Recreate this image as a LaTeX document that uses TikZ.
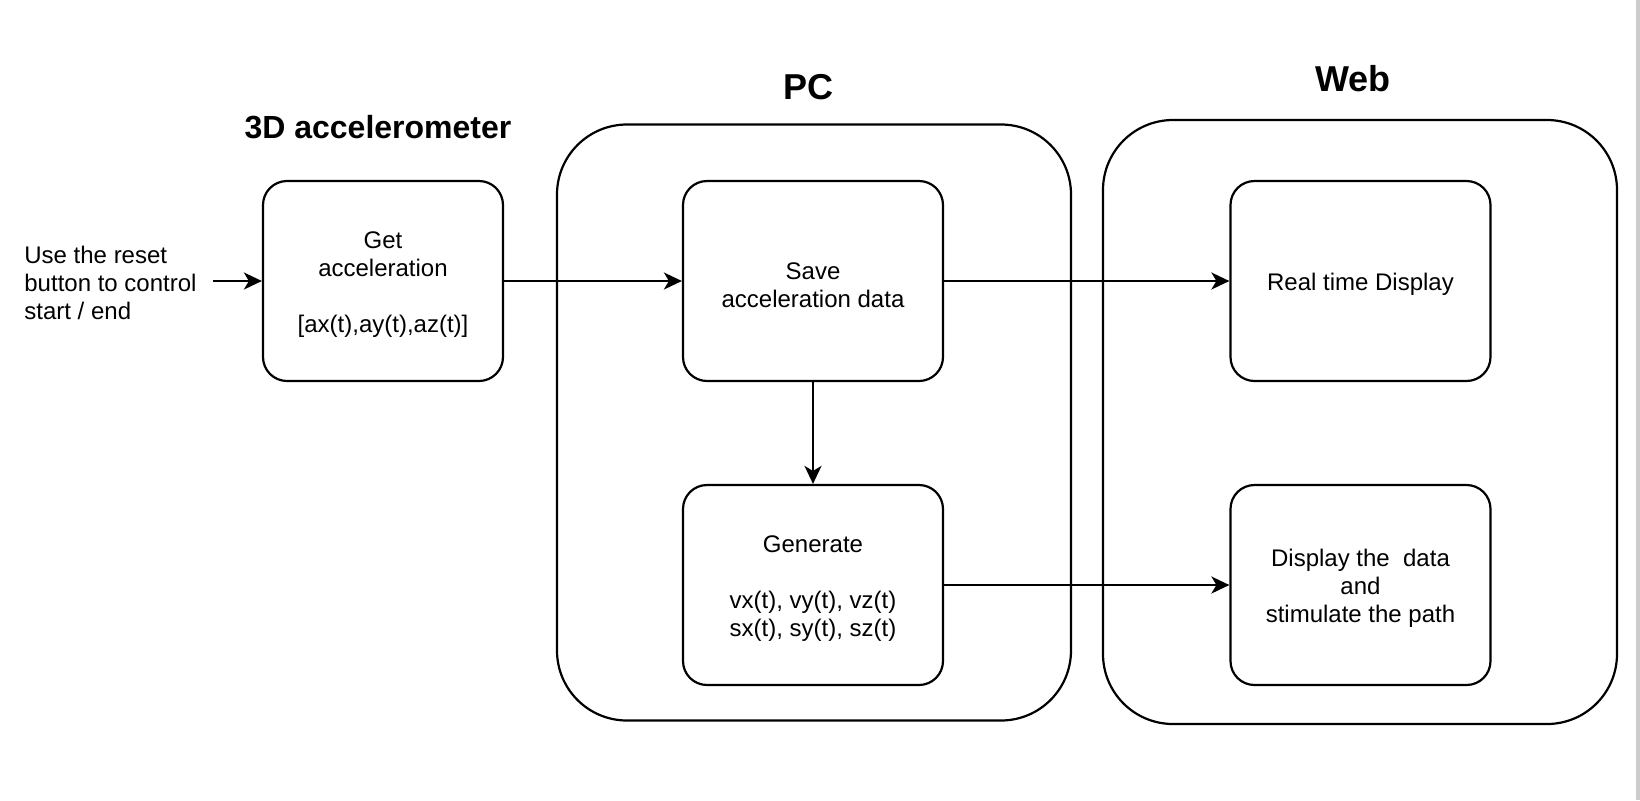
\documentclass[tikz,border=0pt]{standalone}
\usepackage{fontspec}
\setmainfont{Liberation Sans}
\usetikzlibrary{arrows.meta}
\newcommand{\topgap}{\rule{0pt}{12.2pt}}
\tikzset{
  box/.style={draw=black, line width=1.1pt, rounded corners=12pt, align=center,
    minimum width=130pt, minimum height=100pt, inner sep=0pt,
    font=\fontsize{12pt}{14pt}\selectfont},
  group/.style={draw=black, line width=1.1pt, rounded corners=35pt,
    minimum width=257pt, inner sep=0pt},
  title/.style={font=\bfseries\fontsize{18pt}{21pt}\selectfont, inner sep=0pt},
  plain/.style={align=left, inner xsep=8pt, inner ysep=0pt,
    font=\fontsize{12pt}{14pt}\selectfont},
  arr/.style={line width=1.1pt, -{Stealth[length=9pt, width=8.5pt, inset=2.5pt]}}
}
\begin{document}
\begin{tikzpicture}[x=0.5pt, y=-0.5pt]
\useasboundingbox (0,0) rectangle (1640,800);
\fill[black!20] (1636,0) rectangle (1640,800);

% containers
\node[group, minimum height=298pt] (pc) at (814,422.5) {};
\node[group, minimum height=302pt] (web) at (1360,422) {};

% titles
\node[title, font=\bfseries\fontsize{16pt}{19pt}\selectfont] (t3d) at (378,127) {3D accelerometer};
\node[title] (tpc) at (808.5,87) {PC};
\node[title] (tweb) at (1353,79) {Web};

% input text
\node[plain, anchor=west] (input) at (8,283) {Use the reset\\button to control\\start / end};

% boxes
\node[box, minimum width=120pt] (get) at (383,281) {\topgap Get\\acceleration\\[14pt]{[ax(t),ay(t),az(t)]}};
\node[box] (save) at (813,281) {\topgap Save\\acceleration data};
\node[box] (gen) at (813,585) {\topgap Generate\\[14pt]vx(t), vy(t), vz(t)\\sx(t), sy(t), sz(t)};
\node[box] (real) at (1360.5,281) {\topgap Real time Display};
\node[box] (disp) at (1360.5,585) {\topgap Display the\ \ data\\and\\stimulate the path};

% connectors
\draw[arr] (input.east |- get.west) -- (get.west);
\draw[arr] (get.east) -- (save.west);
\draw[arr] (save.east) -- (real.west);
\draw[arr] (save.south) -- (gen.north);
\draw[arr] (gen.east) -- (disp.west);
\end{tikzpicture}
\end{document}
